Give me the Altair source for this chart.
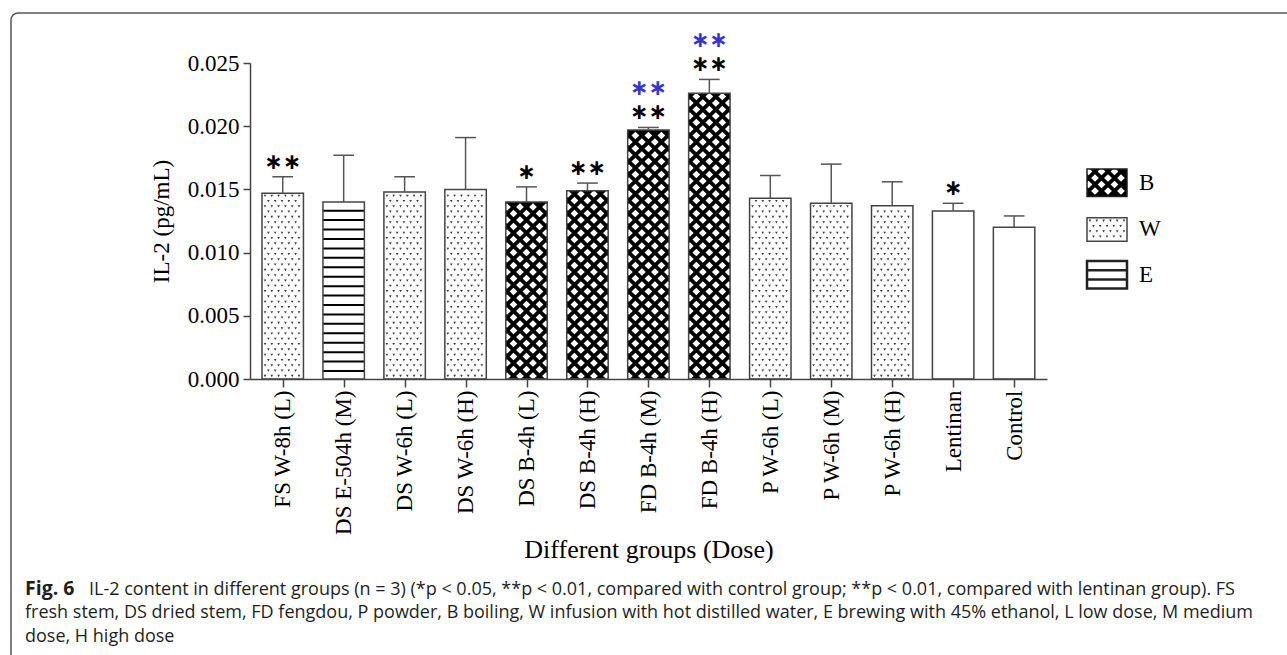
import json
import altair as alt
import pandas as pd

# ---------------- data ----------------
groups = ["FS W-8h (L)", "DS E-504h (M)", "DS W-6h (L)", "DS W-6h (H)", "DS B-4h (L)",
          "DS B-4h (H)", "FD B-4h (M)", "FD B-4h (H)", "P W-6h (L)", "P W-6h (M)",
          "P W-6h (H)", "Lentinan", "Control"]
methods = ["W", "E", "W", "W", "B", "B", "B", "B", "W", "W", "W", "none", "none"]
means = [0.0147, 0.0140, 0.0148, 0.0150, 0.0140, 0.0149, 0.0197, 0.0226,
         0.0143, 0.0139, 0.0137, 0.0133, 0.0120]
sds = [0.0013, 0.0037, 0.0012, 0.0041, 0.0012, 0.0006, 0.0002, 0.0011,
       0.0018, 0.0031, 0.0019, 0.0006, 0.0009]
sig_control = ["∗∗", "", "", "", "∗", "∗∗", "∗∗", "∗∗", "", "", "", "∗", ""]
sig_lentinan = ["", "", "", "", "", "", "∗∗", "∗∗", "", "", "", "", ""]
y_ticks = [0.0, 0.005, 0.010, 0.015, 0.020, 0.025]

legend_keys = ["B", "W", "E"]
legend_rows = [0.0, 1.06, 2.0]
legend_heights = [0.60, 0.51, 0.60]

y_title = "IL-2 (pg/mL)"
x_title = "Different groups (Dose)"
cap_bold = "Fig. 6"
cap_lines = [
    "IL-2 content in different groups (n = 3) (*p < 0.05, **p < 0.01, compared with control group; **p < 0.01, compared with lentinan group). FS",
    "fresh stem, DS dried stem, FD fengdou, P powder, B boiling, W infusion with hot distilled water, E brewing with 45% ethanol, L low dose, M medium",
    "dose, H high dose",
]

# ---------------- layout ----------------
W, H = 797, 316
XDOM = [-0.537, 12.54]
YDOM = [0.0, 0.025]
HALF = 0.34
PX_X = W / (XDOM[1] - XDOM[0])
PX_Y = H / (YDOM[1] - YDOM[0])
SERIF = "Liberation Serif"
SANS = "Open Sans"
EDGE = "#444444"

xs = alt.Scale(domain=XDOM, nice=False, zero=False)
ys = alt.Scale(domain=YDOM, nice=False, zero=False)

df = pd.DataFrame({
    "idx": list(range(len(groups))),
    "group": groups,
    "method": methods,
    "mean": means,
    "sd": sds,
    "sigc": sig_control,
    "sigl": sig_lentinan,
})
df["top"] = df["mean"] + df["sd"]
df["x0"] = df["idx"] - HALF
df["x1"] = df["idx"] + HALF
df["c0"] = df["idx"] - HALF / 2
df["c1"] = df["idx"] + HALF / 2
df["zero"] = 0.0
df["fill"] = ["black" if m == "B" else "white" for m in methods]


def lattice(x0, x1, y0, y1, sx, sy, stagger):
    pts = []
    j = 0
    y = y0
    while y <= y1:
        x = x0 + (stagger if j % 2 else 0)
        while x <= x1:
            pts.append((x, y))
            x += sx
        j += 1
        y += sy
    return pts


bw_px = 2 * HALF * PX_X
diam, dots, elines = [], [], []
for i, (m, v) in enumerate(zip(methods, means)):
    top_px = v * PX_Y
    left = i - HALF
    if m == "B":
        for xp, yp in lattice(1.2, bw_px, 3.0, top_px, 13.0, 6.5, 6.5):
            diam.append({"x": left + xp / PX_X, "y": yp / PX_Y})
    elif m == "W":
        for xp, yp in lattice(3.0, bw_px - 2.5, 3.0, top_px - 2.5, 6.8, 5.3, 3.4):
            dots.append({"x": left + xp / PX_X, "y": yp / PX_Y})
    elif m == "E":
        k = 1
        while 8.0 + (k - 1) * 9.43 < top_px - 4:
            yp = 8.0 + (k - 1) * 9.43
            elines.append({"x0": left, "x1": i + HALF, "y": yp / PX_Y})
            k += 1

label_expr = json.dumps(groups) + "[datum.value]"

x_axis = alt.Axis(values=list(range(len(groups))), labelExpr=label_expr, labelAngle=270,
                  labelFont=SERIF, labelFontSize=23, labelColor="black", labelPadding=3,
                  labelOverlap=False, labelFlush=False, tickSize=8, tickColor=EDGE,
                  tickWidth=1.5, domainColor=EDGE, domainWidth=1.5, grid=False, zindex=1,
                  title=x_title, titleFont=SERIF, titleFontSize=26, titleFontWeight="normal",
                  titleColor="black", titlePadding=2)
y_axis = alt.Axis(values=y_ticks, format=".3f", labelFont=SERIF, labelFontSize=23,
                  labelColor="black", labelPadding=4, tickSize=7, tickColor=EDGE,
                  tickWidth=1.5, domainColor=EDGE, domainWidth=1.5, grid=False, zindex=1,
                  title=y_title, titleFont=SERIF, titleFontSize=23, titleFontWeight="normal",
                  titleColor="black", titlePadding=14)

base = alt.Chart(df)
bar_fill = base.mark_rect(strokeWidth=0).encode(
    x=alt.X("x0:Q", scale=xs, axis=x_axis), x2="x1:Q",
    y=alt.Y("mean:Q", scale=ys, axis=y_axis), y2="zero:Q",
    fill=alt.Fill("fill:N", scale=None))

diam_layer = alt.Chart(pd.DataFrame(diam)).mark_point(
    shape="diamond", filled=True, size=60, color="white", opacity=1, strokeWidth=0).encode(
    x=alt.X("x:Q", scale=xs), y=alt.Y("y:Q", scale=ys))
dot_layer = alt.Chart(pd.DataFrame(dots)).mark_point(
    shape="triangle-down", filled=True, size=7, color="#3a3a3a", opacity=1, strokeWidth=0).encode(
    x=alt.X("x:Q", scale=xs), y=alt.Y("y:Q", scale=ys))
eline_layer = alt.Chart(pd.DataFrame(elines)).mark_rule(color="black", strokeWidth=2).encode(
    x=alt.X("x0:Q", scale=xs), x2="x1:Q", y=alt.Y("y:Q", scale=ys))

outline = base.mark_rect(fillOpacity=0, stroke=EDGE, strokeWidth=1.5).encode(
    x=alt.X("x0:Q", scale=xs), x2="x1:Q", y=alt.Y("mean:Q", scale=ys), y2="zero:Q")
err_v = base.mark_rule(color="#555555", strokeWidth=1.5).encode(
    x=alt.X("idx:Q", scale=xs), y=alt.Y("mean:Q", scale=ys), y2="top:Q")
err_c = base.mark_rule(color="#555555", strokeWidth=1.5).encode(
    x=alt.X("c0:Q", scale=xs), x2="c1:Q", y=alt.Y("top:Q", scale=ys))
star_c = base.mark_text(font="DejaVu Sans", fontSize=22, fontWeight="bold", color="black",
                        baseline="middle", dy=-15).encode(
    x=alt.X("idx:Q", scale=xs), y=alt.Y("top:Q", scale=ys), text="sigc:N")
star_l = base.mark_text(font="DejaVu Sans", fontSize=22, fontWeight="bold", color="#3434d4",
                        baseline="middle", dy=-39).encode(
    x=alt.X("idx:Q", scale=xs), y=alt.Y("top:Q", scale=ys), text="sigl:N")

main = alt.layer(bar_fill, diam_layer, dot_layer, eline_layer, outline, err_v, err_c,
                 star_c, star_l)

# ---------------- legend ----------------
lxs = alt.Scale(domain=[0, 1], range=[837, 877], nice=False, zero=False)
lys = alt.Scale(domain=[0, 3], range=[106, 244], nice=False, zero=False)
ldf = pd.DataFrame({"key": legend_keys, "row": legend_rows, "h": legend_heights})
ldf["y1"] = ldf["row"] + ldf["h"]
ldf["yc"] = ldf["row"] + ldf["h"] / 2
ldf["x0"] = 0.0
ldf["x1"] = 1.0
ldf["xl"] = 1.3
ldf["fill"] = ["black", "white", "white"]
ldf["stroke"] = ["#222222", EDGE, "#222222"]
ldf["sw"] = [1.5, 1.5, 2.5]

ldiam, ldots, llines = [], [], []
for key, row, h in zip(legend_keys, legend_rows, legend_heights):
    hp = h * 46.0
    if key == "B":
        for xp, yp in lattice(1.5, 40, 2.5, hp, 13.0, 6.5, 6.5):
            ldiam.append({"x": xp / 40.0, "y": row + yp / 46.0})
    elif key == "W":
        for xp, yp in lattice(3.0, 37.5, 3.0, hp - 2.5, 6.8, 5.3, 3.4):
            ldots.append({"x": xp / 40.0, "y": row + yp / 46.0})
    else:
        for f in (1 / 3, 2 / 3):
            llines.append({"x0": 0.0, "x1": 1.0, "y": row + h * f})

lbase = alt.Chart(ldf)
l_fill = lbase.mark_rect(strokeWidth=0).encode(
    x=alt.X("x0:Q", scale=lxs, axis=None), x2="x1:Q",
    y=alt.Y("row:Q", scale=lys, axis=None), y2="y1:Q",
    fill=alt.Fill("fill:N", scale=None))
l_diam = alt.Chart(pd.DataFrame(ldiam)).mark_point(
    shape="diamond", filled=True, size=60, color="white", opacity=1, strokeWidth=0).encode(
    x=alt.X("x:Q", scale=lxs, axis=None), y=alt.Y("y:Q", scale=lys, axis=None))
l_dots = alt.Chart(pd.DataFrame(ldots)).mark_point(
    shape="triangle-down", filled=True, size=7, color="#3a3a3a", opacity=1, strokeWidth=0).encode(
    x=alt.X("x:Q", scale=lxs, axis=None), y=alt.Y("y:Q", scale=lys, axis=None))
l_lines = alt.Chart(pd.DataFrame(llines)).mark_rule(color="#222222", strokeWidth=2.5).encode(
    x=alt.X("x0:Q", scale=lxs, axis=None), x2="x1:Q", y=alt.Y("y:Q", scale=lys, axis=None))
l_out = lbase.mark_rect(fillOpacity=0).encode(
    x=alt.X("x0:Q", scale=lxs, axis=None), x2="x1:Q",
    y=alt.Y("row:Q", scale=lys, axis=None), y2="y1:Q",
    stroke=alt.Stroke("stroke:N", scale=None),
    strokeWidth=alt.StrokeWidth("sw:Q", scale=None))
l_text = lbase.mark_text(font=SERIF, fontSize=23, color="black", align="left",
                         baseline="middle").encode(
    x=alt.X("xl:Q", scale=lxs, axis=None), y=alt.Y("yc:Q", scale=lys, axis=None),
    text="key:N")
legend = alt.layer(l_fill, l_diam, l_dots, l_lines, l_out, l_text)

# ---------------- caption and frame ----------------
one = pd.DataFrame({"a": [0]})
frame = alt.Chart(one).mark_rect(fillOpacity=0, stroke="#555555", strokeWidth=1.5,
                                 cornerRadius=7).encode(
    x=alt.value(-239), x2=alt.value(1070), y=alt.value(-50), y2=alt.value(640))
cap0 = alt.Chart(one).mark_text(text=cap_bold, font=SANS, fontSize=19.5, fontWeight="bold",
                                color="#231f20", align="left", baseline="alphabetic").encode(
    x=alt.value(-225), y=alt.value(532))
cap_df = pd.DataFrame({"t": cap_lines, "xp": [-161, -225, -225], "yp": [532, 555, 579]})
caps = alt.Chart(cap_df).mark_text(font=SANS, fontSize=18, color="#231f20", align="left",
                                   baseline="alphabetic").encode(
    x=alt.X("xp:Q", scale=None), y=alt.Y("yp:Q", scale=None), text="t:N")
deco = alt.layer(frame, cap0, caps)

chart = alt.layer(main, legend, deco).resolve_scale(
    x="independent", y="independent"
).properties(
    width=W, height=H,
    autosize=alt.AutoSizeParams(type="none"),
    padding={"left": 250, "top": 63, "right": 240, "bottom": 276},
    background="white",
).configure_view(stroke=None)

chart.save("out.html", embed_options={"renderer": "svg", "actions": False})
